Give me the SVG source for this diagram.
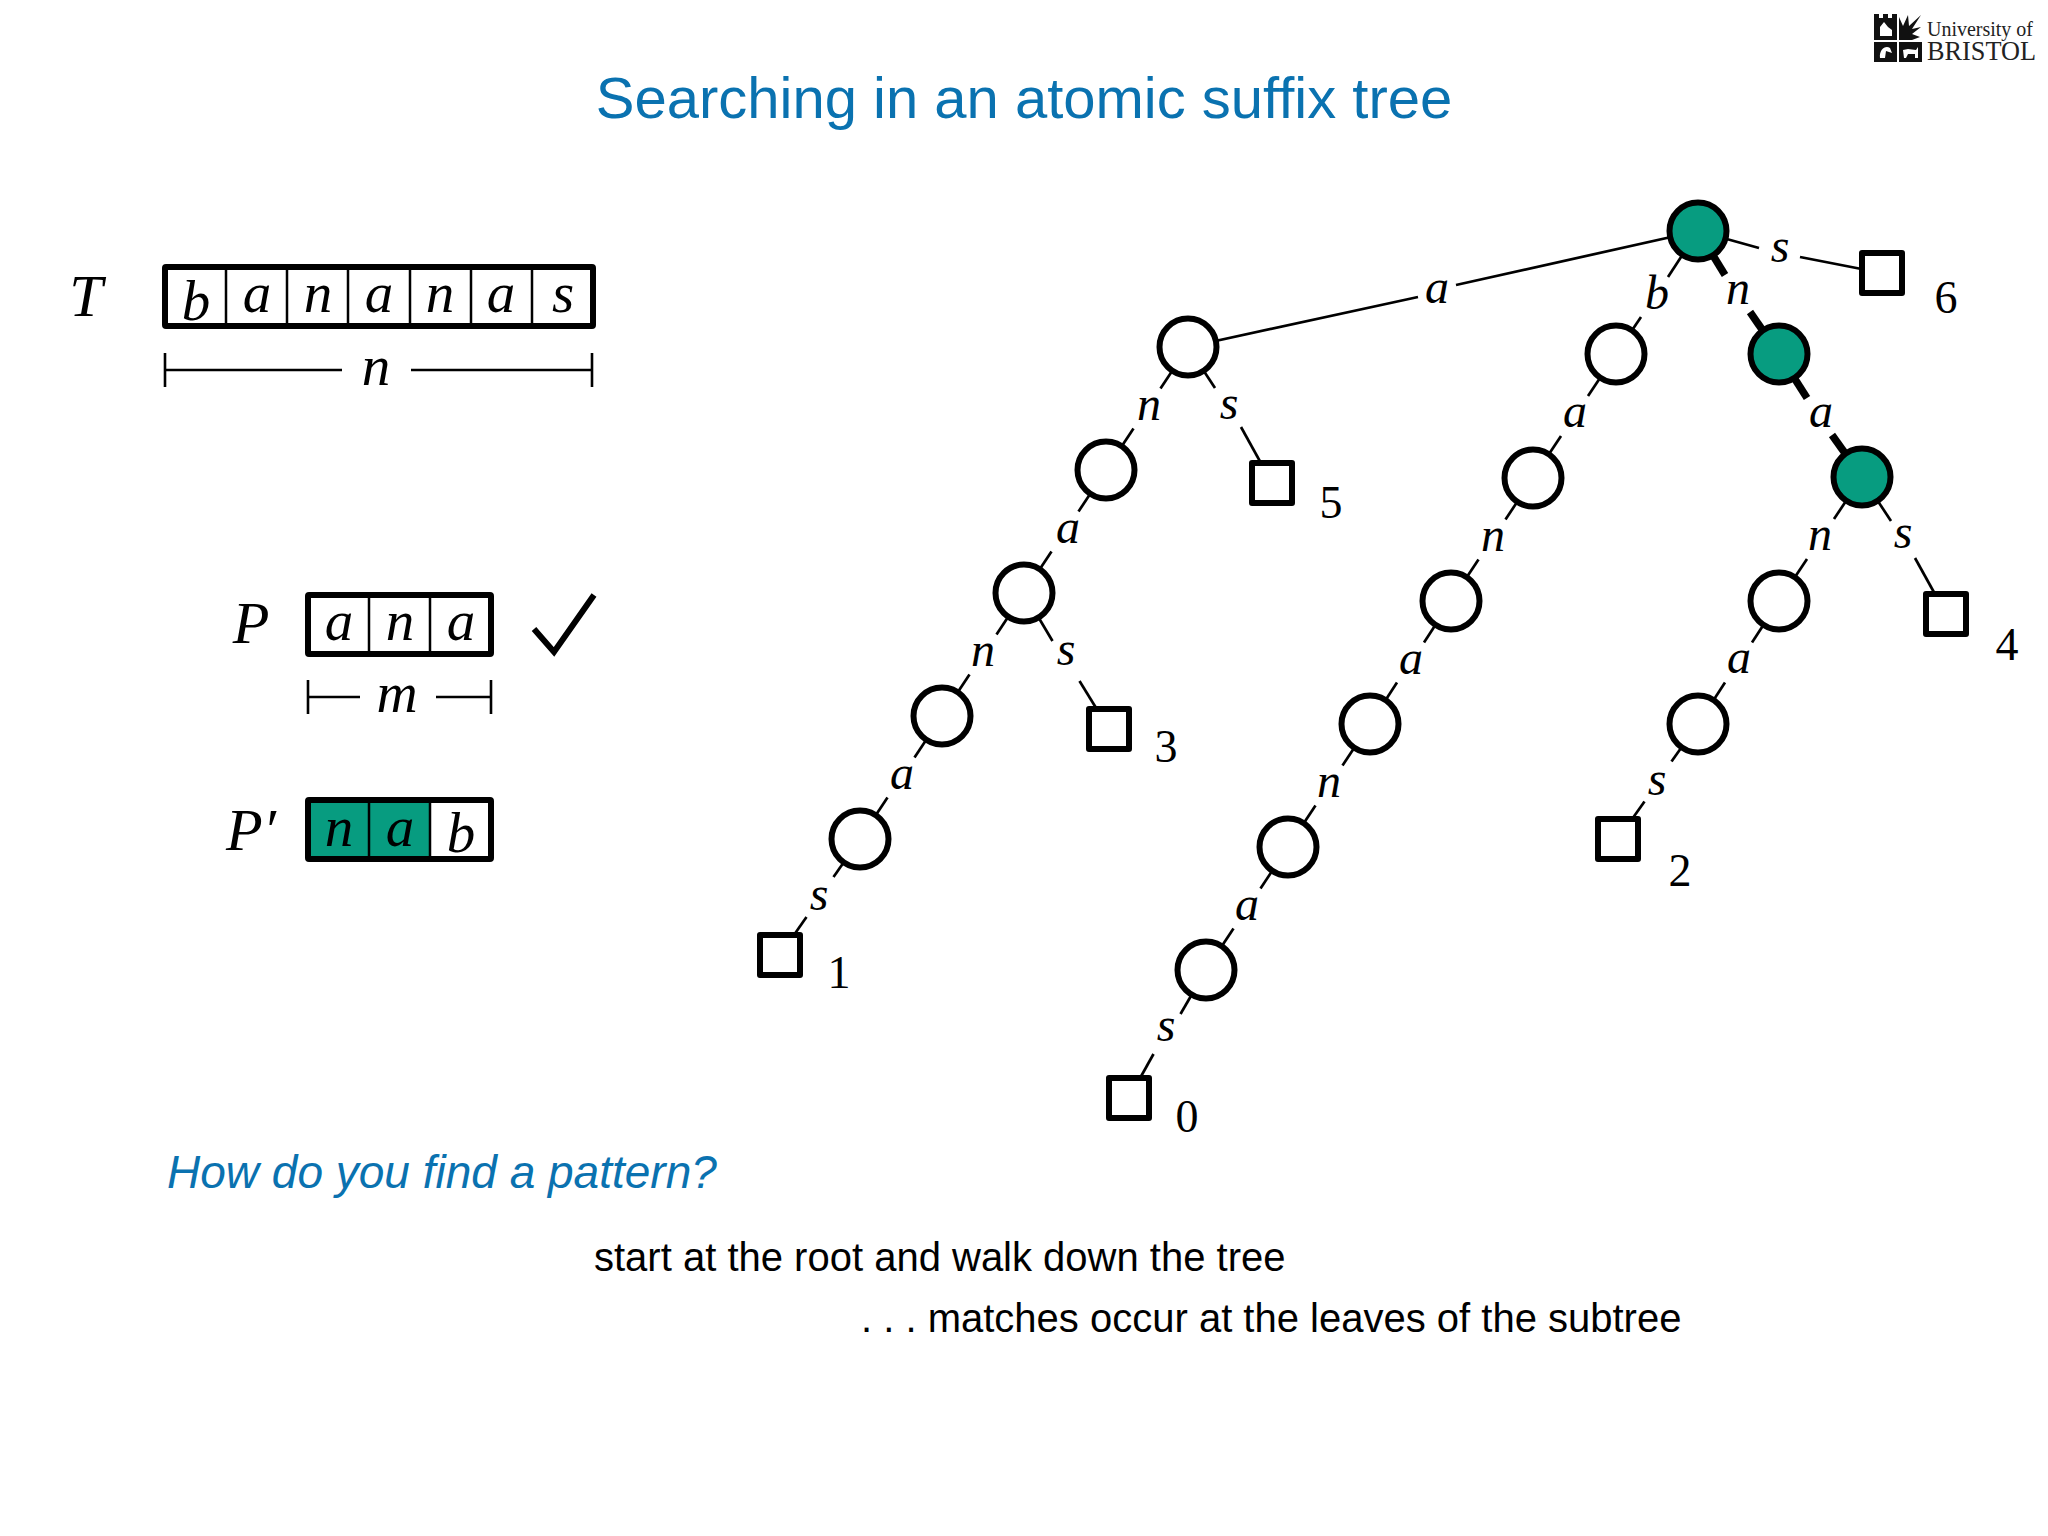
<svg xmlns="http://www.w3.org/2000/svg" width="2048" height="1536" viewBox="0 0 2048 1536">
<style>
text{font-family:"Liberation Serif","DejaVu Serif",serif;fill:#000}
.s{font-family:"Liberation Sans",Arial,sans-serif}
.m{font-style:italic;text-anchor:middle}
.e{font-size:48px}
.b{font-size:57px}
.d{font-size:46px;text-anchor:middle}
.box{fill:none;stroke:#000;stroke-width:6;stroke-linejoin:round}
.div{stroke:#000;stroke-width:2.5}
.br{stroke:#000;stroke-width:2.6;fill:none}
.n circle{fill:#fff;stroke:#000;stroke-width:6}
.n.g circle{fill:#079c80}
.n rect{fill:#fff;stroke:#000;stroke-width:6;stroke-linejoin:round}
#connectors line{stroke:#000;stroke-width:2.7}
#connectors line.t{stroke-width:7.5}
.blue{fill:#0a72b0}
</style>
<rect width="2048" height="1536" fill="#fff"/>
<g id="logo" fill="#111">
<rect x="1874" y="18" width="23" height="22"/><rect x="1874" y="42" width="23" height="20"/><rect x="1899" y="42" width="23" height="20"/>
<rect x="1874" y="14" width="5" height="5"/><rect x="1883" y="14" width="5" height="5"/><rect x="1892" y="14" width="5" height="5"/>
<path d="M1899 40V17L1903 26L1908 15L1909 26L1921 15L1912 29L1921 27L1912 34L1920 37L1912 40Z"/>
<path d="M1880 36V27L1884 22L1888 27L1892 30V36Z M1880 58C1879 50 1885 45 1890 48L1892 53L1886 51L1885 58Z M1903 50L1908 49L1916 50L1918 47V58H1915V54L1908 54L1906 58H1904Z" fill="#fff"/>
<text x="1927" y="36" font-size="20" textLength="106" lengthAdjust="spacingAndGlyphs" fill="#222" style="fill:#222">University of</text>
<text x="1927" y="60" font-size="27" textLength="109" lengthAdjust="spacingAndGlyphs" style="fill:#222">BRISTOL</text>
</g>
<text class="s blue" x="1024" y="118" font-size="58" text-anchor="middle">Searching in an atomic suffix tree</text>
<g id="text-T">
<text class="m" x="86" y="316" font-size="60">T</text>
<rect class="box" x="165" y="267" width="428" height="59" rx="1"/>
<path class="div" d="M226 267V326M287 267V326M348 267V326M410 267V326M471 267V326M532 267V326"/>
<text class="m b" x="196" y="320">b</text><text class="m b" x="257" y="312">a</text><text class="m b" x="318" y="312">n</text><text class="m b" x="379" y="312">a</text><text class="m b" x="440" y="312">n</text><text class="m b" x="501" y="312">a</text><text class="m b" x="563" y="312">s</text>
<path class="br" d="M165 353V387M165 370H342M411 370H592M592 353V387"/>
<text class="m b" x="376" y="385">n</text>
</g>
<g id="pattern-P">
<text class="m" x="251" y="643" font-size="60">P</text>
<rect class="box" x="308" y="595" width="183" height="59" rx="1"/>
<path class="div" d="M369 595V654M430 595V654"/>
<text class="m b" x="339" y="640">a</text><text class="m b" x="400" y="640">n</text><text class="m b" x="461" y="640">a</text>
<polyline points="534,629 554,652 594,595" fill="none" stroke="#000" stroke-width="6"/>
<path class="br" d="M308 680V714M308 697H360M436 697H491M491 680V714"/>
<text class="m b" x="397" y="712">m</text>
</g>
<g id="pattern-P-prime">
<text class="m" x="251" y="850" font-size="60">P′</text>
<rect x="308" y="800" width="122" height="59" fill="#079c80"/>
<rect class="box" x="308" y="800" width="183" height="59" rx="1"/>
<path class="div" d="M369 800V859M430 800V859"/>
<text class="m b" x="339" y="846">n</text><text class="m b" x="400" y="846">a</text><text class="m b" x="461" y="852">b</text>
</g>
<g id="connectors">
<line x1="1698" y1="231" x2="1456" y2="285"/><line x1="1418" y1="297" x2="1188" y2="347"/>
<line x1="1698" y1="231" x2="1668" y2="277"/><line x1="1641" y1="317" x2="1616" y2="354"/>
<line class="t" x1="1698" y1="231" x2="1725" y2="275"/><line class="t" x1="1750" y1="312" x2="1779" y2="354"/>
<line x1="1698" y1="231" x2="1759" y2="248"/><line x1="1800" y1="257" x2="1882" y2="273"/>
<line x1="1188" y1="347" x2="1160.5" y2="388.5"/><line x1="1133.5" y1="428.5" x2="1106" y2="470"/>
<line x1="1188" y1="347" x2="1215" y2="388"/><line x1="1241" y1="427" x2="1272" y2="483"/>
<line x1="1106" y1="470" x2="1078.5" y2="511.5"/><line x1="1051.5" y1="551.5" x2="1024" y2="593"/>
<line x1="1024" y1="593" x2="996.5" y2="634.5"/><line x1="969.5" y1="674.5" x2="942" y2="716"/>
<line x1="1024" y1="593" x2="1052.5" y2="641"/><line x1="1079.5" y1="681" x2="1109" y2="729"/>
<line x1="942" y1="716" x2="914.5" y2="757.5"/><line x1="887.5" y1="797.5" x2="860" y2="839"/>
<line x1="860" y1="839" x2="833.5" y2="877"/><line x1="806.5" y1="917" x2="780" y2="955"/>
<line x1="1616" y1="354" x2="1588" y2="396"/><line x1="1561" y1="436" x2="1533" y2="478"/>
<line x1="1533" y1="478" x2="1505.5" y2="519.5"/><line x1="1478.5" y1="559.5" x2="1451" y2="601"/>
<line x1="1451" y1="601" x2="1424" y2="642.5"/><line x1="1397" y1="682.5" x2="1370" y2="724"/>
<line x1="1370" y1="724" x2="1342.5" y2="765.5"/><line x1="1315.5" y1="805.5" x2="1288" y2="847"/>
<line x1="1288" y1="847" x2="1260.5" y2="888.5"/><line x1="1233.5" y1="928.5" x2="1206" y2="970"/>
<line x1="1206" y1="970" x2="1180.5" y2="1014"/><line x1="1153.5" y1="1054" x2="1129" y2="1098"/>
<line class="t" x1="1779" y1="354" x2="1807" y2="398"/><line class="t" x1="1832" y1="435" x2="1862" y2="477"/>
<line x1="1862" y1="477" x2="1834" y2="519"/><line x1="1807" y1="559" x2="1779" y2="601"/>
<line x1="1779" y1="601" x2="1752" y2="642.5"/><line x1="1725" y1="682.5" x2="1698" y2="724"/>
<line x1="1698" y1="724" x2="1671.5" y2="761.5"/><line x1="1644.5" y1="801.5" x2="1618" y2="839"/>
<line x1="1862" y1="477" x2="1891" y2="521"/><line x1="1915" y1="558" x2="1946" y2="614"/>
<g class="labels">
<text class="m e" x="1437" y="303">a</text><text class="m e" x="1657" y="309">b</text><text class="m e" x="1738" y="304">n</text><text class="m e" x="1780" y="262">s</text>
<text class="m e" x="1149" y="420">n</text><text class="m e" x="1229" y="419">s</text><text class="m e" x="1068" y="543">a</text><text class="m e" x="983" y="666">n</text><text class="m e" x="1066" y="665">s</text><text class="m e" x="902" y="789">a</text><text class="m e" x="819" y="910">s</text>
<text class="m e" x="1575" y="427">a</text><text class="m e" x="1493" y="551">n</text><text class="m e" x="1411" y="674">a</text><text class="m e" x="1329" y="797">n</text><text class="m e" x="1247" y="920">a</text><text class="m e" x="1166" y="1041">s</text>
<text class="m e" x="1821" y="427">a</text><text class="m e" x="1820" y="550">n</text><text class="m e" x="1739" y="673">a</text><text class="m e" x="1657" y="795">s</text><text class="m e" x="1903" y="548">s</text>
</g>
</g>
<g class="n g" id="root"><circle cx="1698" cy="231" r="28.5"/></g>
<g class="n g" id="node-n"><circle cx="1779" cy="354" r="28.5"/></g>
<g class="n g" id="node-na"><circle cx="1862" cy="477" r="28.5"/></g>
<g class="n" id="node-a"><circle cx="1188" cy="347" r="28.5"/></g>
<g class="n" id="node-an"><circle cx="1106" cy="470" r="28.5"/></g>
<g class="n" id="node-ana"><circle cx="1024" cy="593" r="28.5"/></g>
<g class="n" id="node-anan"><circle cx="942" cy="716" r="28.5"/></g>
<g class="n" id="node-anana"><circle cx="860" cy="839" r="28.5"/></g>
<g class="n" id="node-b"><circle cx="1616" cy="354" r="28.5"/></g>
<g class="n" id="node-ba"><circle cx="1533" cy="478" r="28.5"/></g>
<g class="n" id="node-ban"><circle cx="1451" cy="601" r="28.5"/></g>
<g class="n" id="node-bana"><circle cx="1370" cy="724" r="28.5"/></g>
<g class="n" id="node-banan"><circle cx="1288" cy="847" r="28.5"/></g>
<g class="n" id="node-banana"><circle cx="1206" cy="970" r="28.5"/></g>
<g class="n" id="node-nan"><circle cx="1779" cy="601" r="28.5"/></g>
<g class="n" id="node-nana"><circle cx="1698" cy="724" r="28.5"/></g>
<g class="n" id="leaf-0"><rect x="1109" y="1078" width="40" height="40"/><text class="d" x="1187" y="1132">0</text></g>
<g class="n" id="leaf-1"><rect x="760" y="935" width="40" height="40"/><text class="d" x="839" y="988">1</text></g>
<g class="n" id="leaf-2"><rect x="1598" y="819" width="40" height="40"/><text class="d" x="1680" y="886">2</text></g>
<g class="n" id="leaf-3"><rect x="1089" y="709" width="40" height="40"/><text class="d" x="1166" y="762">3</text></g>
<g class="n" id="leaf-4"><rect x="1926" y="594" width="40" height="40"/><text class="d" x="2007" y="660">4</text></g>
<g class="n" id="leaf-5"><rect x="1252" y="463" width="40" height="40"/><text class="d" x="1331" y="518">5</text></g>
<g class="n" id="leaf-6"><rect x="1862" y="253" width="40" height="40"/><text class="d" x="1946" y="313">6</text></g>
<text class="s blue" x="167" y="1188" font-size="46" font-style="italic">How do you find a pattern?</text>
<text class="s" x="594" y="1271" font-size="40">start at the root and walk down the tree</text>
<text class="s" x="861" y="1332" font-size="40">. . . matches occur at the leaves of the subtree</text>
</svg>
